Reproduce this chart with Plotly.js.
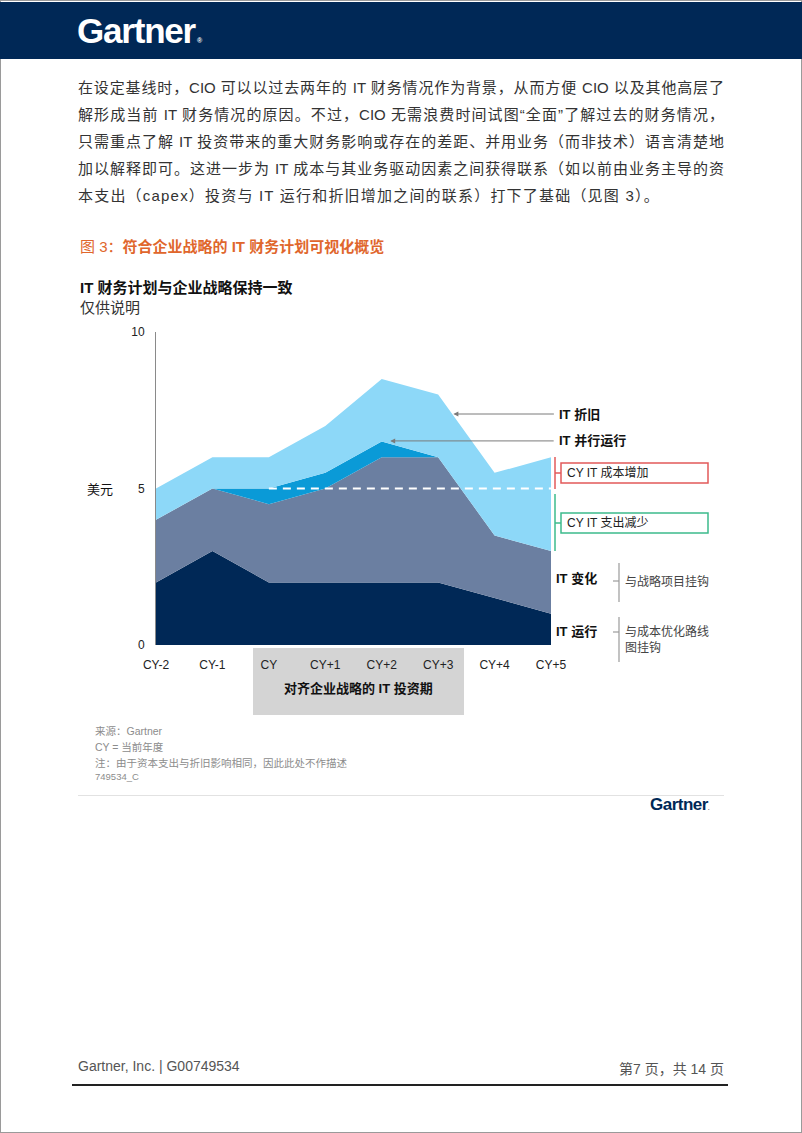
<!DOCTYPE html>
<html>
<head>
<meta charset="utf-8">
<script src="https://cdn.plot.ly/plotly-3.0.1.min.js"></script>
<style>
  html, body { margin:0; padding:0; background:#fff; }
  body { width:802px; height:1133px; position:relative; overflow:hidden;
         font-family:"Liberation Sans","Noto Sans CJK SC",sans-serif; }
  #frame { position:absolute; left:0; top:0; width:800px; height:1131px; border:1px solid #9a9a9a; }
  #header { position:absolute; left:0; top:2px; width:802px; height:57px; background:#002856; }
  #logo { position:absolute; left:77px; top:9px; color:#fff; font-weight:700; font-size:35px;
          letter-spacing:-1.2px; font-family:"Liberation Sans",Arial,sans-serif; }
  #logo span { font-size:7px; letter-spacing:0; margin-left:2px; vertical-align:baseline; }
  .pl { position:absolute; left:78px; width:646px; height:22px; line-height:22px; font-size:15px;
        color:#333; white-space:nowrap; font-family:"Liberation Sans","Noto Sans CJK SC",sans-serif; }
  .j { text-align:justify; text-align-last:justify; white-space:normal; }
  #logo2 { position:absolute; left:650px; top:795px; color:#002856; font-weight:700; font-size:17px;
           letter-spacing:-0.5px; font-family:"Liberation Sans",Arial,sans-serif; }
  #divider { position:absolute; left:78px; top:795px; width:646px; height:1px; background:#e2e2e2; }
  #footL { position:absolute; left:78px; top:1058px; font-size:14px; color:#555; }
  #footR { position:absolute; right:78px; top:1058px; font-size:14px; color:#555; }
  #footLine { position:absolute; left:72px; top:1084px; width:656px; height:2px; background:#222; }
  #chart { position:absolute; left:0; top:0; width:802px; height:1133px; }
</style>
</head>
<body>
<div id="frame"></div>
<div id="header"><div id="logo">Gartner<span>®</span></div></div>
<div class="pl j" style="top:77px">在设定基线时，CIO 可以以过去两年的 IT 财务情况作为背景，从而方便 CIO 以及其他高层了</div>
<div class="pl j" style="top:104px">解形成当前 IT 财务情况的原因。不过，CIO 无需浪费时间试图“全面”了解过去的财务情况，</div>
<div class="pl j" style="top:131px">只需重点了解 IT 投资带来的重大财务影响或存在的差距、并用业务（而非技术）语言清楚地</div>
<div class="pl j" style="top:158px">加以解释即可。这进一步为 IT 成本与其业务驱动因素之间获得联系（如以前由业务主导的资</div>
<div class="pl" style="top:185px; letter-spacing:1.2px">本支出（capex）投资与 IT 运行和折旧增加之间的联系）打下了基础（见图 3）。</div>
<div id="divider"></div>
<div id="logo2">Gartner<span style="font-size:5px">.</span></div>
<div id="footL">Gartner, Inc. | G00749534</div>
<div id="footR">第7 页，共 14 页</div>
<div id="footLine"></div>
<div id="chart"></div>
<script>
// ---- data ----
const categories = ['CY-2','CY-1','CY','CY+1','CY+2','CY+3','CY+4','CY+5'];
const itRun          = [2, 3, 2, 2, 2, 2, 1.5, 1];
const itChange       = [2, 2, 2.5, 3, 4, 4, 2, 2];
const itParallel     = [0, 0, 0.5, 0.5, 0.5, 0, 0, 0];
const itDepreciation = [1, 1, 1, 1.5, 2, 2, 2, 3];
const seriesNames = ['IT 运行', 'IT 变化', 'IT 并行运行', 'IT 折旧'];
const yTickVals = [0, 5, 10];
const yTickText = ['0', '5', '10'];
const cyBudgetLevel = 5;
const dashedFrom = 'CY';
const dashedTo = 'CY+5';

// ---- helpers ----
const W = 802, H = 1133;
const px = x => x / W;
const py = y => 1 - y / H;
const FONT = '"Liberation Sans","Noto Sans CJK SC",sans-serif';

const colors = ['#002856', '#6b7fa1', '#0a9ad7', '#8dd8f8'];
const vals = [itRun, itChange, itParallel, itDepreciation];
const traces = vals.map((v, i) => ({
  type: 'scatter', mode: 'lines', x: categories, y: v, name: seriesNames[i],
  stackgroup: 'one', fillcolor: colors[i], line: {width: 0, color: colors[i]},
  hoverinfo: 'skip', showlegend: false
}));
const i0 = categories.indexOf(dashedFrom), i1 = categories.indexOf(dashedTo);
traces.push({
  type: 'scatter', mode: 'lines', x: categories.slice(i0, i1 + 1),
  y: categories.slice(i0, i1 + 1).map(() => cyBudgetLevel),
  line: {color: '#ffffff', width: 2, dash: '8px,6px'}, hoverinfo: 'skip', showlegend: false
});

function txt(x, y, text, opts) {
  return Object.assign({xref:'paper', yref:'paper', x:px(x), y:py(y), text:text, showarrow:false,
    xanchor:'left', yanchor:'middle', font:{family:FONT, size:13, color:'#111'}}, opts || {});
}
function arrow(xd, yd, tailPx) {
  return {xref:'x', yref:'y', x:xd, y:yd, ax:tailPx, ay:0, text:'', showarrow:true,
    arrowhead:2, arrowsize:1, arrowwidth:1, arrowcolor:'#7a7a7a', standoff:0};
}
function line(x0, y0, x1, y1, color, w) {
  return {type:'line', xref:'paper', yref:'paper', x0:px(x0), y0:py(y0), x1:px(x1), y1:py(y1),
    line:{color:color, width:w || 1}};
}
function rect(x0, y0, x1, y1, opts) {
  return Object.assign({type:'rect', xref:'paper', yref:'paper', x0:px(x0), y0:py(y0), x1:px(x1), y1:py(y1)}, opts);
}

const RED = '#e25a5a', GREEN = '#3dbb8c', GREY = '#9a9a9a';
const shapes = [
  rect(253, 648, 464, 715, {fillcolor:'#d4d4d4', line:{width:0}, layer:'below'}),
  // red bracket
  line(555, 457, 555, 489, RED, 1.5), line(555, 473, 561, 473, RED, 1.5),
  rect(561, 463, 708, 483, {line:{color:RED, width:1.5}}),
  // green bracket
  line(555, 494, 555, 551, GREEN, 1.5), line(555, 523, 561, 523, GREEN, 1.5),
  rect(561, 513, 708, 533, {line:{color:GREEN, width:1.5}}),
  // grey brackets
  line(619, 563, 619, 602, GREY, 1.2), line(613, 581, 619, 581, GREY, 1.2),
  line(619, 617, 619, 662, GREY, 1.2), line(613, 632, 619, 632, GREY, 1.2),
];

const annotations = [
  txt(78, 247, '图 3：<b>符合企业战略的 IT 财务计划可视化概览</b>', {font:{family:FONT, size:15, color:'#e0662c'}}),
  txt(78, 287, '<b>IT 财务计划与企业战略保持一致</b>', {font:{family:FONT, size:15, color:'#111'}}),
  txt(78, 307, '仅供说明', {font:{family:FONT, size:15, color:'#333'}}),
  txt(100, 489, '美元', {xanchor:'center', font:{family:FONT, size:13, color:'#111'}}),
  txt(358, 688, '<b>对齐企业战略的 IT 投资期</b>', {xanchor:'center', font:{family:FONT, size:13, color:'#111'}}),
  arrow(5.27, 7.38, 102),
  arrow(4.15, 6.52, 165),
  txt(557, 414, '<b>IT 折旧</b>'),
  txt(557, 441, '<b>IT 并行运行</b>'),
  txt(565, 473, 'CY IT 成本增加', {font:{family:FONT, size:12, color:'#222'}}),
  txt(565, 523, 'CY IT 支出减少', {font:{family:FONT, size:12, color:'#222'}}),
  txt(554, 578, '<b>IT 变化</b>'),
  txt(554, 631, '<b>IT 运行</b>'),
  txt(623, 581, '与战略项目挂钩', {font:{family:FONT, size:12, color:'#444'}}),
  txt(623, 639, '与成本优化路线<br>图挂钩', {align:'left', font:{family:FONT, size:12, color:'#444'}}),
  txt(93, 731, '来源：Gartner', {font:{family:FONT, size:10.5, color:'#8c8c8c'}}),
  txt(93, 747, 'CY = 当前年度', {font:{family:FONT, size:10.5, color:'#8c8c8c'}}),
  txt(93, 763, '注：由于资本支出与折旧影响相同，因此此处不作描述', {font:{family:FONT, size:10.5, color:'#8c8c8c'}}),
  txt(93, 776, '749534_C', {font:{family:FONT, size:9.5, color:'#8c8c8c'}}),
];

const layout = {
  width: W, height: H, autosize: false,
  margin: {l:0, r:0, t:0, b:0, pad:0},
  paper_bgcolor: 'rgba(0,0,0,0)', plot_bgcolor: 'rgba(0,0,0,0)',
  showlegend: false,
  xaxis: {
    domain: [px(156), px(551)], type: 'category', categoryorder: 'array', categoryarray: categories,
    range: [0, 7], showgrid: false, zeroline: false, showline: false,
    ticks: 'outside', ticklen: 9, tickcolor: 'rgba(0,0,0,0)',
    tickfont: {family: FONT, size: 12, color: '#222'}, fixedrange: true
  },
  yaxis: {
    domain: [py(645), py(332)], range: [0, 10], tickvals: yTickVals, ticktext: yTickText,
    showgrid: false, zeroline: false, showline: true, linecolor: '#8a8a8a', linewidth: 1,
    ticks: 'outside', ticklen: 8, tickcolor: 'rgba(0,0,0,0)',
    tickfont: {family: FONT, size: 12, color: '#222'}, fixedrange: true
  },
  shapes: shapes,
  annotations: annotations,
  hovermode: false
};

Plotly.newPlot('chart', traces, layout, {displayModeBar: false, staticPlot: true});
</script>
</body>
</html>
